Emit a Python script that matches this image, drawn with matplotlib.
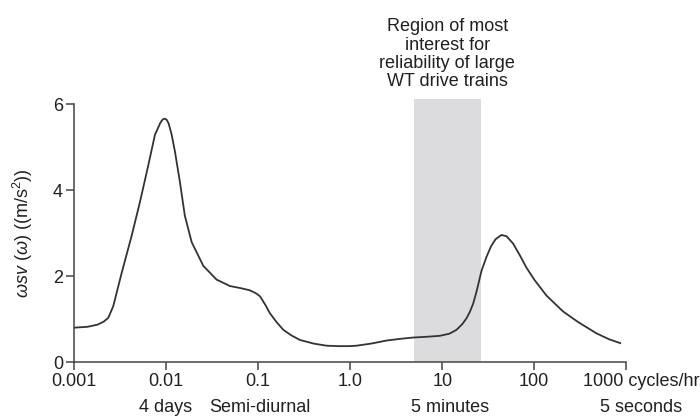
import matplotlib
matplotlib.use('Agg')
import matplotlib.pyplot as plt
import matplotlib.transforms as mtransforms

plt.rcParams['font.family'] = ['Liberation Sans', 'DejaVu Sans']
plt.rcParams['mathtext.fontset'] = 'custom'
plt.rcParams['mathtext.it'] = 'Liberation Sans:italic'
plt.rcParams['mathtext.rm'] = 'Liberation Sans'

# spectrum (cycles/hr, value)
freq = [0.001, 0.0014, 0.0018, 0.0021, 0.00236, 0.00267, 0.0033, 0.00423,
        0.00521, 0.00641, 0.00757, 0.0087, 0.0092, 0.0097, 0.0102, 0.0107,
        0.0115, 0.0125, 0.01416, 0.0160, 0.0190, 0.0254, 0.0354, 0.0494,
        0.065, 0.0815, 0.095, 0.105, 0.120, 0.134, 0.160, 0.188, 0.230,
        0.284, 0.40, 0.555, 0.75, 0.993, 1.17, 1.7, 2.48, 3.5, 4.83, 7.0,
        9.4, 12.0, 14.3, 16.5, 18.4, 20.0, 21.7, 23.6, 26.7, 30.3, 34.0,
        38.0, 44.1, 50.0, 58.9, 70.0, 82.2, 100.0, 135.5, 205.0, 300.0,
        473.0, 650.0, 860.0]
power = [0.80, 0.82, 0.87, 0.94, 1.03, 1.30, 2.08, 2.94,
         3.73, 4.58, 5.29, 5.58, 5.65, 5.67, 5.64, 5.55,
         5.30, 4.90, 4.19, 3.41, 2.79, 2.24, 1.92, 1.77,
         1.72, 1.67, 1.60, 1.53, 1.33, 1.14, 0.92, 0.75, 0.62,
         0.515, 0.43, 0.38, 0.37, 0.37, 0.38, 0.43, 0.50, 0.54, 0.57, 0.59,
         0.61, 0.66, 0.75, 0.88, 1.02, 1.17, 1.36, 1.64, 2.12, 2.45, 2.70,
         2.86, 2.96, 2.93, 2.76, 2.48, 2.20, 1.92, 1.55, 1.18, 0.93,
         0.67, 0.53, 0.44]

band = [4.9, 26.2]
xticks = [0.001, 0.01, 0.1, 1.0, 10, 100, 1000]
xticklabels = ['0.001', '0.01', '0.1', '1.0', '10', '100', '1000 cycles/hr']
sub_x = [0.01, 0.1, 10, 1000]
sub_labels = ['4 days', 'Semi-diurnal', '5 minutes', '5 seconds']
sub_offsets = [0, 2, 8, 15]
yticks = [0, 2, 4, 6]

ink = '#231f20'

fig = plt.figure(figsize=(7, 4.19), dpi=100)
ax = fig.add_axes([0.1057, 0.136, 0.789, 0.627])

ax.axvspan(band[0], band[1], ymin=0, ymax=1, color='#dcdcdf', lw=0, zorder=0)
ax.plot(freq, power, color='#333333', lw=1.3, zorder=2)

ax.set_xscale('log')
ax.set_xlim(0.001, 1000)
ax.set_ylim(0, 6.12)

for s in ['top', 'right']:
    ax.spines[s].set_visible(False)
for s in ['left', 'bottom']:
    ax.spines[s].set_color('#444444')
    ax.spines[s].set_linewidth(1.1)
ax.spines['left'].set_bounds(0, 6)

ax.set_xticks(xticks)
ax.set_xticklabels(xticklabels)
ax.xaxis.set_minor_locator(plt.NullLocator())
ax.set_yticks(yticks)
ax.tick_params(direction='out', length=6, width=1.1, color='#444444',
               labelsize=13, labelcolor=ink, pad=2)

# shift the last label a bit right, as in the picture
last = ax.get_xticklabels()[-1]
last.set_transform(last.get_transform() +
                   mtransforms.ScaledTranslation(15 / 100, 0, fig.dpi_scale_trans))

for x, lab, off in zip(sub_x, sub_labels, sub_offsets):
    ax.annotate(lab, xy=(x, 0), xycoords=('data', 'axes fraction'),
                xytext=(off * 0.72, -32.5), textcoords='offset points',
                ha='center', va='center', fontsize=13, color=ink)

ax.set_ylabel(r'$\omega sv\ (\omega)$ ((m/s$^2$))', fontsize=13, color=ink)
ax.yaxis.set_label_coords(-0.071, 0.49)

ax.text((band[0] * band[1]) ** 0.5, 1.035,
        'Region of most\ninterest for\nreliability of large\nWT drive trains',
        transform=ax.get_xaxis_transform(), ha='center', va='bottom',
        fontsize=13, color=ink, linespacing=1.1)

fig.savefig('out.png', dpi=100)
